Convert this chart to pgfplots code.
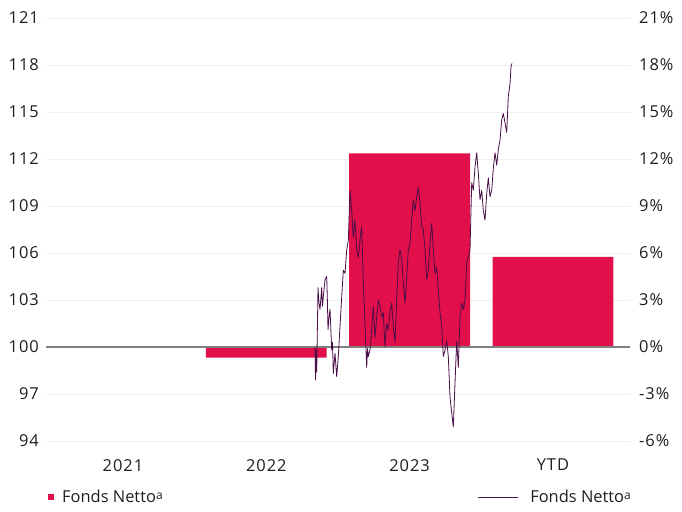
\documentclass[border=0pt]{standalone}
\usepackage{fontspec}
\setmainfont{Open Sans}
\newfontfamily\numfont[LetterSpace=6]{Open Sans}
\usepackage{pgfplots}
\pgfplotsset{compat=1.18}
\definecolor{barred}{HTML}{E2104A}
\definecolor{linepurple}{HTML}{4A0D45}
\definecolor{txt}{HTML}{1E1E1E}
\definecolor{gridc}{HTML}{EFEFEF}
\definecolor{zeroc}{HTML}{7F7F7F}
\begin{document}
\fontsize{16.5}{19}\selectfont
\begin{tikzpicture}[x=1bp,y=1bp]
\path[use as bounding box] (0,0) rectangle (682,512);
% percentage axis: bars, grid, right labels
\begin{axis}[
  at={(46bp,71bp)}, anchor=south west,
  scale only axis, width=584bp, height=423bp,
  xmin=-0.537, xmax=3.538, ymin=-6, ymax=21,
  axis y line*=right,
  axis x line*=bottom,
  axis line style={draw=none},
  major tick length=0pt,
  xtick={0,1,2,3}, xticklabels={2021,2022,2023,YTD},
  ytick={-6,-3,...,21},
  yticklabels={-6\%,-3\%,0\%,3\%,6\%,9\%,12\%,15\%,18\%,21\%},
  ymajorgrids, grid style={draw=gridc, line width=0.9bp},
  ticklabel style={font=\numfont\fontsize{16.5}{19}\selectfont, text=txt},
  yticklabel style={anchor=west, inner sep=0pt, xshift=9bp},
  xticklabel style={anchor=north, inner sep=0pt, yshift=-18bp},
  /pgf/number format/assume math mode=true,
  clip=false,
]
\addplot[ybar, bar width=0.843, bar shift=0pt, fill=barred, draw=none]
  coordinates {(1,-0.68) (2,12.36) (3,5.76)};
\draw[zeroc, line width=1.4bp] (axis cs:-0.537,0) -- (axis cs:3.538,0);
\end{axis}
% index axis: line, left labels
\begin{axis}[
  at={(46bp,71bp)}, anchor=south west,
  scale only axis, width=584bp, height=423bp,
  xmin=46, xmax=630, ymin=94, ymax=121,
  axis y line*=left,
  axis x line=none,
  axis line style={draw=none},
  major tick length=0pt,
  ytick={94,97,...,121},
  ticklabel style={font=\numfont\fontsize{16.5}{19}\selectfont, text=txt},
  yticklabel style={anchor=east, inner sep=0pt, xshift=-7bp},
  /pgf/number format/assume math mode=true,
]
\addplot[linepurple, line width=0.8bp, line join=round] coordinates {
(315,100.0) (315.5,97.9) (316.2,99.8) (316.7,98.4) (318,103.8) (319,102.8) (320,102.4) (321.7,103.8) (322.4,102.6) (323,103.0) (325,104.3) (326.7,104.5) (327.4,102.9) (328,101.1) (329,101.9) (330,102.4) (331.7,99.8) (332.5,100.3) (333.3,98.3) (335,99.6) (336.7,98.1) (338.3,99.4) (340,101.3) (341.7,103.2) (343.3,104.9) (345,104.7) (346.7,106.2) (348.3,106.8) (350,110.0) (351.7,108.7) (353.3,107.0) (355,108.1) (356.7,106.2) (358.3,105.7) (360,106.8) (361.7,107.7) (363.3,104.1) (365,101.5) (366.7,98.7) (367.5,99.9) (368.3,99.4) (370,99.8) (371.7,101.1) (373.3,102.6) (375,100.6) (376.7,101.9) (378.3,103.0) (380,102.6) (381.7,101.9) (383.3,102.2) (385,100.0) (386.7,101.5) (388.3,101.1) (390,102.2) (391.7,102.8) (393.3,101.3) (395,100.3) (396.7,103.0) (398.3,105.4) (400,106.2) (401.7,105.6) (403.3,104.1) (405,102.8) (406.7,104.5) (408.3,106.2) (410,106.6) (411.7,108.1) (413.3,109.4) (415,108.7) (416.7,109.6) (418.3,110.2) (420,109.2) (421.7,107.7) (423.3,107.5) (425,106.2) (426.7,104.3) (428.3,104.9) (430,106.6) (431.7,107.9) (433.3,106.2) (435,104.7) (436.7,105.1) (438.3,103.6) (440,102.2) (441.7,101.3) (443.3,99.4) (445,99.8) (446.7,100.4) (448.3,99.4) (450,96.8) (451.7,95.8) (453.3,94.9) (455,97.7) (456.7,100.4) (458.3,98.7) (460,101.9) (461.7,102.8) (463.3,102.4) (465,103.0) (466.7,105.4) (468.3,105.7) (470,106.2) (471.7,110.5) (473.3,110.0) (475,111.5) (476.7,112.4) (478.3,111.1) (480,109.4) (481.7,110.0) (483.3,108.7) (485,108.1) (486.7,109.8) (488.3,110.8) (490,109.6) (491.7,110.0) (493.3,111.4) (495,112.4) (496.7,111.6) (498.3,112.6) (500,113.2) (501.7,114.5) (503.3,114.9) (505,114.3) (506.7,113.7) (508.3,116.0) (510,116.8) (511,117.9) (512,118.1)
};
\end{axis}
% legends
\fill[barred] (48,12) rectangle (54,18);
\node[anchor=base west, inner sep=0pt, text=txt] at (62,9) {Fonds Netto\raisebox{0.4ex}{\fontsize{12}{13}\selectfont a}};
\draw[linepurple, line width=0.8bp] (478,15) -- (518,15);
\node[anchor=base east, inner sep=0pt, text=txt] at (631,9) {Fonds Netto\raisebox{0.4ex}{\fontsize{12}{13}\selectfont a}};
\end{tikzpicture}
\end{document}
